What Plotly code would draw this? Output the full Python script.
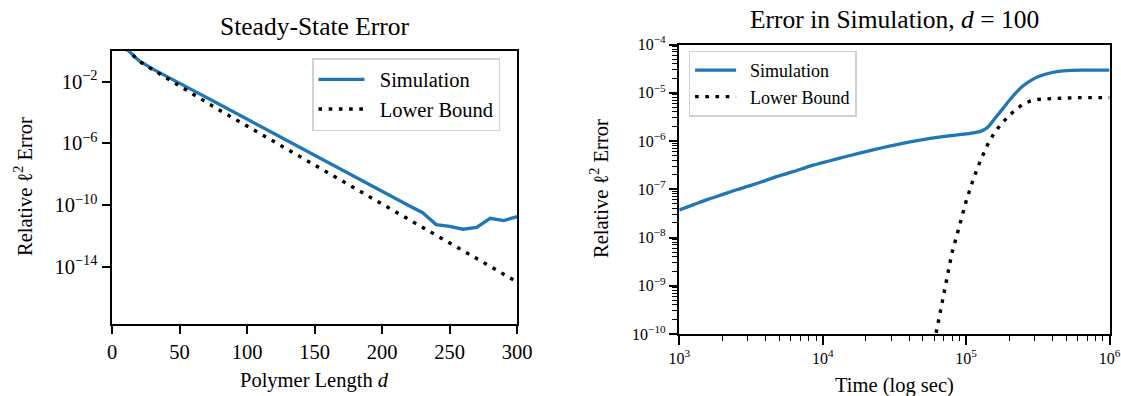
import plotly.graph_objects as go

# ---------------- data: left panel (steady state) ----------------
polymer_length = [10, 20, 30, 40, 50, 60, 70, 80, 90, 100, 110, 120, 130, 140, 150,
                  160, 170, 180, 190, 200, 210, 220, 230, 240, 250, 260, 270, 280, 290, 300]
ss_simulation = [1.51e0, 2.24e-1, 6.61e-2, 2.19e-2, 7.59e-3, 2.69e-3, 9.33e-4, 3.16e-4,
                 1.10e-4, 3.72e-5, 1.26e-5, 4.37e-6, 1.48e-6, 5.01e-7, 1.70e-7, 5.75e-8,
                 1.95e-8, 6.61e-9, 2.24e-9, 7.59e-10, 2.51e-10, 8.91e-11, 3.16e-11,
                 5.37e-12, 4.17e-12, 2.69e-12, 3.55e-12, 1.38e-11, 9.77e-12, 1.78e-11]
ss_lower_bound = [1.51e0, 2.09e-1, 6.03e-2, 1.78e-2, 5.01e-3, 1.38e-3, 4.27e-4, 1.32e-4,
                  4.17e-5, 1.29e-5, 4.07e-6, 1.26e-6, 3.98e-7, 1.23e-7, 3.89e-8, 1.20e-8,
                  3.80e-9, 1.17e-9, 3.72e-10, 1.15e-10, 3.63e-11, 1.12e-11, 3.55e-12,
                  1.10e-12, 3.47e-13, 1.07e-13, 3.39e-14, 1.05e-14, 3.31e-15, 1.02e-15]

# ---------------- data: right panel (time simulation, d = 100) ----------------
time_sim = [1.0e3, 1.26e3, 1.58e3, 2.0e3, 2.51e3, 3.16e3, 3.98e3, 5.01e3, 6.31e3, 7.94e3,
            1.0e4, 1.26e4, 1.58e4, 2.0e4, 2.51e4, 3.16e4, 3.98e4, 5.01e4, 6.31e4, 7.94e4,
            1.0e5, 1.12e5, 1.26e5, 1.41e5, 1.58e5, 1.78e5, 2.0e5, 2.24e5, 2.51e5, 2.82e5,
            3.16e5, 3.98e5, 5.01e5, 6.31e5, 7.94e5, 1.0e6]
err_sim = [3.72e-8, 4.79e-8, 6.17e-8, 7.76e-8, 9.77e-8, 1.20e-7, 1.51e-7, 1.91e-7, 2.34e-7,
           2.95e-7, 3.55e-7, 4.27e-7, 5.07e-7, 6.03e-7, 7.08e-7, 8.22e-7, 9.44e-7, 1.07e-6,
           1.19e-6, 1.30e-6, 1.40e-6, 1.48e-6, 1.58e-6, 1.91e-6, 2.88e-6, 4.47e-6, 6.92e-6,
           1.02e-5, 1.41e-5, 1.78e-5, 2.14e-5, 2.63e-5, 2.88e-5, 2.95e-5, 2.95e-5, 2.95e-5]
time_lb = [5.62e4, 6.31e4, 7.08e4, 7.94e4, 8.91e4, 1.0e5, 1.12e5, 1.26e5, 1.41e5, 1.58e5,
           1.78e5, 2.0e5, 2.24e5, 2.51e5, 2.82e5, 3.16e5, 3.98e5, 5.01e5, 6.31e5, 1.0e6]
err_lb = [2.51e-11, 1.41e-10, 8.32e-10, 4.57e-9, 1.58e-8, 5.62e-8, 1.58e-7, 3.98e-7, 8.32e-7,
          1.51e-6, 2.34e-6, 3.39e-6, 4.57e-6, 5.89e-6, 6.76e-6, 7.24e-6, 7.59e-6, 7.76e-6,
          7.94e-6, 7.94e-6]

series_names = ["Simulation", "Lower Bound"]
left_ytick_exp = [-2, -6, -10, -14]
left_xticks = [0, 50, 100, 150, 200, 250, 300]
right_ytick_exp = [-4, -5, -6, -7, -8, -9, -10]
right_xtick_exp = [3, 4, 5, 6]

# ---------------- styling ----------------
W, H = 1121, 396
FONT = "Liberation Serif"
BLUE = "#1f77b4"
DOT = "3.6px,6.6px"
PAD = "\u00a0\u00a0"


def sup(e):
    s = str(e).replace("-", "\u2212")
    return "10<sup>" + s + "</sup>"


def px_x(p):
    return p / W


def px_y(p):
    return 1 - p / H


fig = go.Figure()

fig.add_trace(go.Scatter(x=polymer_length, y=ss_simulation, mode="lines",
                         name=PAD + series_names[0],
                         line=dict(color=BLUE, width=3.3), xaxis="x", yaxis="y", legend="legend"))
fig.add_trace(go.Scatter(x=polymer_length, y=ss_lower_bound, mode="lines",
                         name=PAD + series_names[1],
                         line=dict(color="black", width=3.4, dash=DOT), xaxis="x", yaxis="y",
                         legend="legend"))
fig.add_trace(go.Scatter(x=time_sim, y=err_sim, mode="lines", name=PAD + series_names[0],
                         line=dict(color=BLUE, width=3.3, shape="spline", smoothing=0.6),
                         xaxis="x2", yaxis="y2", legend="legend2"))
fig.add_trace(go.Scatter(x=time_lb, y=err_lb, mode="lines", name=PAD + series_names[1],
                         line=dict(color="black", width=3.4, dash=DOT), xaxis="x2", yaxis="y2",
                         legend="legend2"))

axis_common = dict(showline=True, linecolor="black", linewidth=2, mirror=True,
                   showgrid=False, zeroline=False, ticks="outside", ticklen=8.5,
                   tickwidth=1.6, tickcolor="black", automargin=False)

minor_y = []
for e in range(-10, -4):
    for m in range(2, 10):
        minor_y.append(m * 10.0 ** e)
minor_x = []
for e in range(3, 6):
    for m in range(2, 10):
        minor_x.append(m * 10.0 ** e)

fig.update_layout(
    width=W, height=H, autosize=False,
    margin=dict(l=0, r=0, t=0, b=0, pad=0, autoexpand=False),
    paper_bgcolor="white", plot_bgcolor="white",
    font=dict(family=FONT, color="black", size=20.5),
    xaxis=dict(domain=[px_x(112), px_x(517.2)], anchor="y", range=[0, 300],
               tickvals=left_xticks, tickfont=dict(size=20.5), **axis_common),
    yaxis=dict(domain=[px_y(323.5), px_y(50.7)], anchor="x", type="log", range=[-17.68, 0.0],
               tickvals=[10.0 ** e for e in left_ytick_exp],
               ticktext=[sup(e) for e in left_ytick_exp], tickfont=dict(size=20.5), **axis_common),
    xaxis2=dict(domain=[px_x(679.3), px_x(1109.5)], anchor="y2", type="log", range=[3, 6],
                tickvals=[10.0 ** e for e in right_xtick_exp],
                ticktext=[sup(e) for e in right_xtick_exp], tickfont=dict(size=16),
                minor=dict(tickmode="array", tickvals=minor_x, ticks="outside", ticklen=5,
                           tickwidth=1.1, tickcolor="black", showgrid=False),
                **axis_common),
    yaxis2=dict(domain=[px_y(334), px_y(44.5)], anchor="x2", type="log", range=[-10, -4],
                tickvals=[10.0 ** e for e in right_ytick_exp],
                ticktext=[sup(e) for e in right_ytick_exp], tickfont=dict(size=16),
                minor=dict(tickmode="array", tickvals=minor_y, ticks="outside", ticklen=5,
                           tickwidth=1.1, tickcolor="black", showgrid=False),
                **axis_common),
    legend=dict(x=px_x(312), y=px_y(58), xanchor="left", yanchor="top",
                bgcolor="rgba(255,255,255,0.8)", bordercolor="rgba(204,204,204,0.9)",
                borderwidth=1.5, font=dict(size=20.5, family=FONT), itemwidth=46,
                tracegroupgap=0),
    legend2=dict(x=px_x(688.6), y=px_y(50.5), xanchor="left", yanchor="top",
                 bgcolor="rgba(255,255,255,0.8)", bordercolor="rgba(204,204,204,0.9)",
                 borderwidth=1.5, font=dict(size=18, family=FONT), itemwidth=41,
                 tracegroupgap=0),
    showlegend=True,
    hovermode=False,
)

annotations = [
    dict(text="Steady-State Error", x=px_x(314.5), y=px_y(26.7), font=dict(size=25.5)),
    dict(text="Error in Simulation, <i>d</i> = 100", x=px_x(894.4), y=px_y(20), font=dict(size=25.5)),
    dict(text="Polymer Length <i>d</i>", x=px_x(314.5), y=px_y(380), font=dict(size=20.5)),
    dict(text="Time (log sec)", x=px_x(894.4), y=px_y(385), font=dict(size=20.5)),
    dict(text="Relative \u2113<sup>2</sup> Error", x=px_x(23), y=px_y(187), textangle=-90,
         font=dict(size=20.5)),
    dict(text="Relative \u2113<sup>2</sup> Error", x=px_x(599), y=px_y(189), textangle=-90,
         font=dict(size=20.5)),
]
for a in annotations:
    a.update(xref="paper", yref="paper", xanchor="center", yanchor="middle", showarrow=False)
fig.update_layout(annotations=annotations)

fig.write_html(
    "out.html",
    config={"displayModeBar": False, "responsive": False},
    post_script="document.body.style.margin='0';document.body.style.overflow='hidden';",
)
